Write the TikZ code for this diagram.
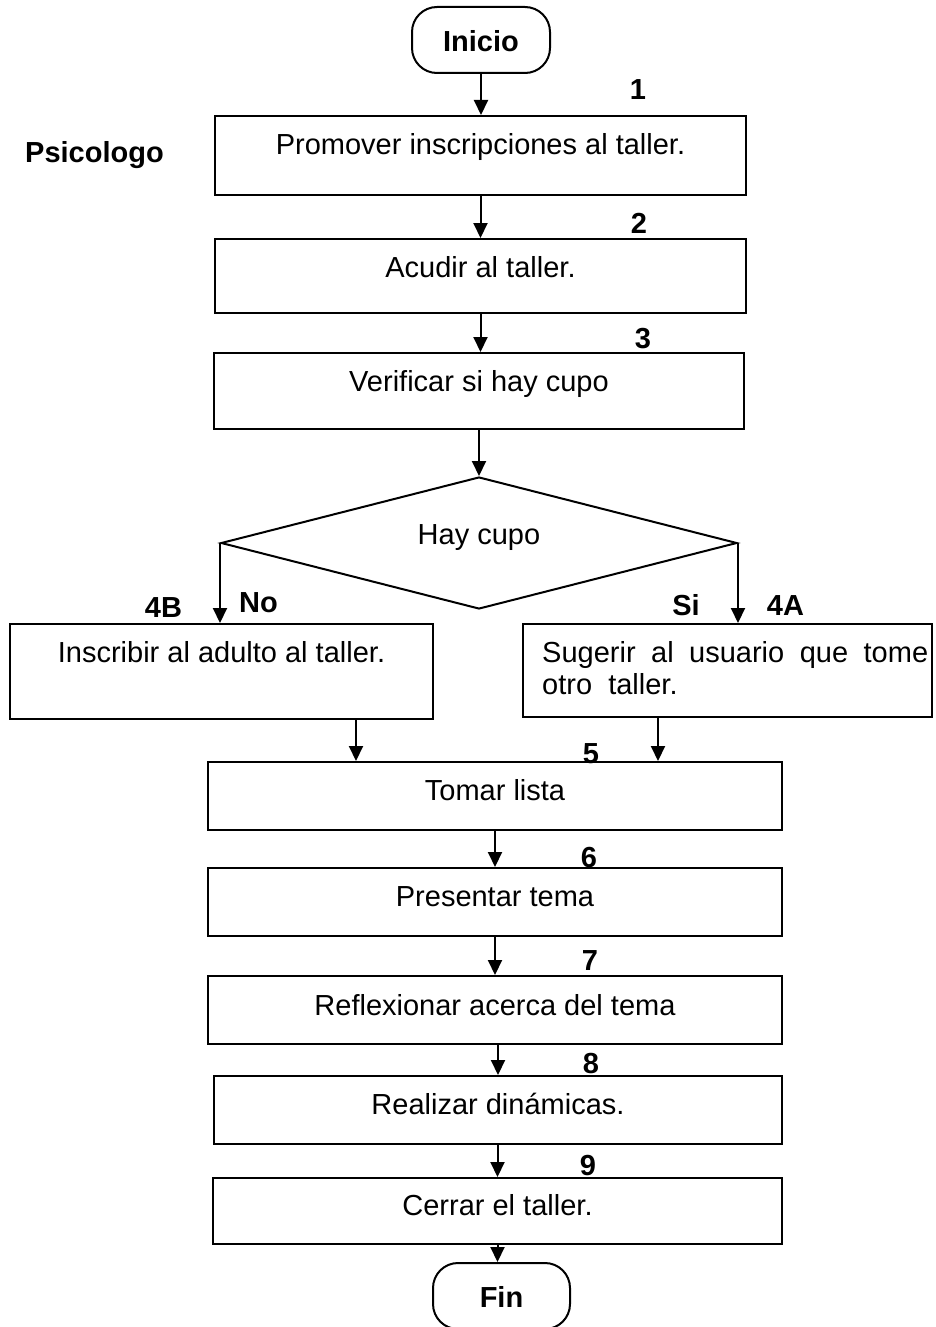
\documentclass[tikz,border=0pt]{standalone}
\usepackage{fontspec}
\setmainfont{Liberation Sans}
\usetikzlibrary{shapes.geometric,arrows.meta}

\begin{document}
\begin{tikzpicture}[x=1pt,y=-1pt,
	every node/.style={font=\fontsize{29}{32}\selectfont},
	proc/.style={draw,line width=2pt,text height=21pt,text depth=13pt},
	term/.style={draw,line width=2pt,rounded corners=25pt,minimum width=138pt,minimum height=66pt,font=\fontsize{29}{32}\selectfont\bfseries,text depth=0pt},
	dec/.style={draw,diamond,aspect=3.9,inner sep=0pt,line width=2pt,minimum width=516pt,minimum height=132pt,text height=21pt,text depth=19pt},
	num/.style={anchor=base,inner sep=0pt,font=\fontsize{29}{32}\selectfont\bfseries},
	arr/.style={line width=2pt,-{Triangle[length=15pt,width=14pt]}}]
	\useasboundingbox (0,0) rectangle (935,1327);
	
	\node[term,text height=24pt] (ini) at (481,40) {Inicio};
	\node[proc,minimum width=531pt,minimum height=79pt,text depth=24pt] (b1) at (480.5,155.5) {Promover inscripciones al taller.};
	\node[proc,minimum width=531pt,minimum height=74pt,text depth=19pt] (b2) at (480.5,276) {Acudir al taller.};
	\node[proc,minimum width=530pt,minimum height=76pt,text depth=21pt] (b3) at (479,391) {Verificar si hay cupo};
	\node[dec] (hay) at (479,543) {Hay cupo};
	\node[proc,minimum width=423pt,minimum height=95pt,text depth=40pt] (s4b) at (221.5,671.5) {Inscribir al adulto al taller.};
	\node[proc,minimum width=409pt,minimum height=93pt] (s4a) at (727.5,670.5) {};
	\node[anchor=north west,inner sep=0pt,text width=386pt,align=justify] (s4atxt) at (542,641) {Sugerir al usuario que tome otro\ \ taller.};
	\node[proc,minimum width=574pt,minimum height=68pt] (b5) at (495,796) {Tomar lista};
	\node[proc,minimum width=574pt,minimum height=68pt] (b6) at (495,902) {Presentar tema};
	\node[proc,minimum width=574pt,minimum height=68pt,text depth=11pt] (b7) at (495,1010) {Reflexionar acerca del tema};
	\node[proc,minimum width=568pt,minimum height=68pt] (b8) at (498,1110) {Realizar dinámicas.};
	\node[proc,minimum width=569pt,minimum height=66pt] (b9) at (497.5,1211) {Cerrar el taller.};
	\node[term,minimum width=137pt,text height=22pt] (fin) at (501.5,1296) {Fin};
	
	\node[num] (psi) at (94.5,162) {Psicologo};
	\node[num] (n1) at (638,100) {1};
	\node[num] (n2) at (639,233) {2};
	\node[num] (n3) at (643,348) {3};
	\node[num] (n4b) at (163.5,617) {4B};
	\node[num] (no) at (258.5,612) {No};
	\node[num] (si) at (686,615) {Si};
	\node[num] (n4a) at (785.5,615) {4A};
	\node[num] (n5) at (591,763) {5};
	\node[num] (n6) at (589,867) {6};
	\node[num] (n7) at (590,970) {7};
	\node[num] (n8) at (591,1073) {8};
	\node[num] (n9) at (588,1175) {9};
	
	\draw[arr] (ini.south) -- (ini.south |- b1.north);
	\draw[arr] (b1.south) -- (b2.north);
	\draw[arr] (b2.south) -- (b2.south |- b3.north);
	\draw[arr] (b3.south) -- (hay.north);
	\draw[arr] (hay.west) -- (hay.west |- s4b.north);
	\draw[arr] (hay.east) -- (hay.east |- s4a.north);
	\draw[arr] ([xshift=134.5pt]s4b.south) -- ([xshift=134.5pt]s4b.south |- b5.north);
	\draw[arr] ([xshift=-69.5pt]s4a.south) -- ([xshift=-69.5pt]s4a.south |- b5.north);
	\draw[arr] (b5) -- (b6);
	\draw[arr] (b6) -- (b7);
	\draw[arr] (b7.south -| b8.north) -- (b8.north);
	\draw[arr] (b8.south -| b9.north) -- (b9.north);
	\draw[arr] (b9.south) -- (b9.south |- fin.north);
\end{tikzpicture}
\end{document}
